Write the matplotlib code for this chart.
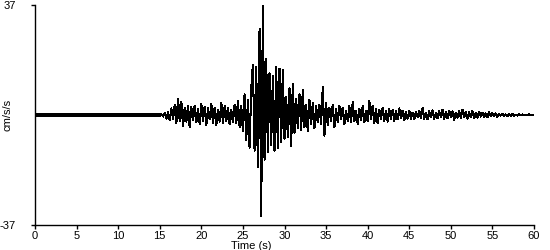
import numpy as np
import matplotlib
matplotlib.use("Agg")
import matplotlib.pyplot as plt

# Sample interval of the digitised record (s)
dt = 0.2

# Pre-event quiet part of the record
quiet_time = [0.0, 15.2]
quiet_acc = [0.0, 0.0]

# Acceleration samples (cm/s/s), 0.2 s apart
# 15.2 s - 25.0 s
acc_15_25 = [0.3, -0.5, 0.8, -1.2, 1.0, -1.8, 2.2, -1.5, 3.5, -2.8,
             5.5, -2.0, 4.5, -3.8, 2.5, -2.2, 3.0, -4.2, 2.6, -1.8,
             3.2, -2.5, 2.0, -3.0, 3.6, -2.0, 2.8, -3.3, 2.2, -1.5,
             3.8, -2.6, 2.4, -3.5, 1.8, -2.2, 4.2, -2.8, 3.0, -2.0,
             2.5, -3.2, 1.6, -2.4, 3.4, -2.8, 4.6, -4.0, 3.2, -5.5]
# 25.2 s - 35.0 s
acc_25_35 = [7.0, -8.5, 5.0, -11.0, 9.0, 17.0, -12.0, 16.0, -17.5, 29.0,
             -34.0, 37.0, -15.0, 19.0, -12.5, 14.0, -10.0, 13.0, -12.0, 16.0,
             -11.0, 15.5, -9.0, 15.0, -8.0, 6.0, -7.5, 9.0, -10.5, 10.5,
             -6.0, 5.5, -4.5, 7.0, -5.0, 8.5, -4.0, 3.5, -5.5, 5.0,
             -3.0, 4.0, -4.5, 3.0, -2.5, 3.5, -3.0, 9.5, -7.0, 4.0]
# 35.2 s - 45.0 s
acc_35_45 = [-3.5, 2.5, -2.0, 3.5, -4.0, 2.0, -2.5, 3.0, -1.5, 2.5,
             -3.0, 1.5, -2.0, 3.0, -2.5, 4.4, -2.0, 1.5, -3.0, 2.0,
             -1.8, 3.0, -2.5, 1.5, -2.0, 4.6, -1.5, 3.2, -2.8, 2.0,
             -2.8, 1.8, -1.5, 2.5, -2.0, 1.5, -2.2, 2.0, -1.2, 1.8,
             -2.0, 1.2, -1.5, 2.2, -1.0, 1.5, -1.8, 1.0, -1.2, 1.4]
# 45.2 s - 60.0 s
acc_45_60 = [-1.2, 0.8, -1.5, 1.0, -0.6, 1.4, -1.0, 2.3, -1.2, 0.8,
             -1.5, 1.2, -0.8, 1.6, -1.3, 0.7, -1.0, 1.3, -0.6, 1.8,
             -1.4, 0.9, -1.1, 1.5, -0.7, 1.2, -1.6, 0.8, -0.9, 1.4,
             -1.0, 1.7, -0.8, 1.1, -1.2, 0.9, -0.7, 1.3, -1.0, 0.6,
             -0.9, 1.0, -0.5, 0.8, -0.7, 0.5, -0.8, 0.9, -0.4, 0.6,
             -0.3, 0.5, -0.6, 0.3, -0.2, 0.4, -0.3, 0.2, -0.4, 0.3,
             -0.2, 0.3, -0.2, 0.1, -0.2, 0.2, -0.1, 0.2, -0.1, 0.1,
             -0.1, 0.2, 0.0, 0.1, 0.0]

x_ticks = [0, 5, 10, 15, 20, 25, 30, 35, 40, 45, 50, 55, 60]
y_ticks = [-37, 37]
y_tick_labels = ["-37", "37"]

record = acc_15_25 + acc_25_35 + acc_35_45 + acc_45_60
t_start = quiet_time[-1]
t_record = t_start + dt * np.arange(len(record))

plt.rcParams['font.family'] = ['Liberation Sans', 'DejaVu Sans']

fig = plt.figure(figsize=(5.5, 2.5), dpi=100)
ax = fig.add_axes([35 / 550, 1 - 225 / 250, (534 - 35) / 550, 220 / 250])

ax.plot(quiet_time, quiet_acc, color='black', linewidth=1.6, antialiased=False,
        solid_capstyle='butt')
ax.plot(t_record, record, color='black', linewidth=0.75, antialiased=False)

ax.set_xlim(0, 60)
ax.set_ylim(-37, 37)

for s in ['top', 'right']:
    ax.spines[s].set_visible(False)
for s in ['left', 'bottom']:
    ax.spines[s].set_linewidth(1.0)
    ax.spines[s].set_color('black')

ax.set_xticks(x_ticks)
ax.set_xticklabels([str(v) for v in x_ticks])
ax.set_yticks(y_ticks)
ax.set_yticklabels(y_tick_labels)
ax.tick_params(axis='x', direction='out', length=3, width=1, pad=1.5, labelsize=8)
ax.tick_params(axis='y', direction='out', length=3, width=1, pad=11, labelsize=8)

ax.set_ylabel('cm/s/s', fontsize=8)
ax.yaxis.set_label_coords(-0.046, 0.5)
ax.set_xlabel('Time (s)', fontsize=8)
ax.xaxis.set_label_coords(0.433, -0.072)

fig.savefig('out.png', dpi=100)
